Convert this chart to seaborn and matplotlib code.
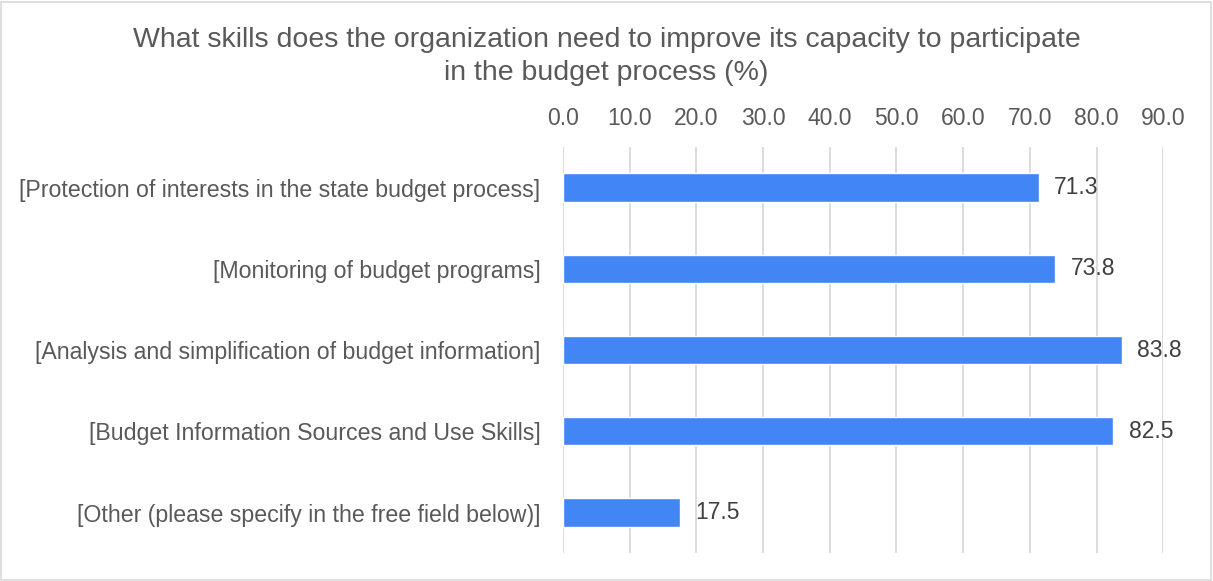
import matplotlib
matplotlib.use("Agg")
import matplotlib.pyplot as plt
import seaborn as sns
import pandas as pd

categories = [
    "[Protection of interests in the state budget process]",
    "[Monitoring of budget programs]",
    "[Analysis and simplification of budget information]",
    "[Budget Information Sources and Use Skills]",
    "[Other (please specify in the free field below)]",
]
values = [71.3, 73.8, 83.8, 82.5, 17.5]
x_ticks = [0, 10, 20, 30, 40, 50, 60, 70, 80, 90]

sns.set_theme(style="white")
plt.rcParams["font.family"] = ["Liberation Sans", "DejaVu Sans"]

df = pd.DataFrame({"skill": categories, "pct": values})

fig = plt.figure(figsize=(12.13, 5.81), dpi=100)
ax = fig.add_axes([0.464, 0.048, 0.495, 0.699])

sns.barplot(data=df, x="pct", y="skill", orient="h", color="#4285F4",
            saturation=1, width=0.35, ax=ax)

ax.set_xlim(0, 90)
ax.set_xticks(x_ticks)
ax.set_xticklabels([f"{t:.1f}" for t in x_ticks])
ax.xaxis.tick_top()
ax.tick_params(axis="x", length=0, pad=12, labelsize=16.5, colors="#595959")
ax.tick_params(axis="y", length=0, pad=16, labelsize=16.7, colors="#595959")
ax.set_xlabel("")
ax.set_ylabel("")
ax.grid(axis="x", color="#D9D9D9", linewidth=1.3)
ax.set_axisbelow(True)
for s in ax.spines.values():
    s.set_visible(False)
ax.set_ylim(4.5, -0.5)

for i, v in enumerate(values):
    ax.text(v + 2.3, i, f"{v:.1f}", va="center", ha="left",
            fontsize=16.5, color="#404040")

fig.suptitle("What skills does the organization need to improve its capacity to participate\nin the budget process (%)",
             y=0.953, fontsize=20.5, color="#595959", linespacing=1.32)

fig.patches.append(plt.Rectangle((0.001, 0.002), 0.997, 0.995, transform=fig.transFigure,
                                 fill=False, edgecolor="#D9D9D9", linewidth=1.2))

fig.savefig("out.png", dpi=100, facecolor="white")
